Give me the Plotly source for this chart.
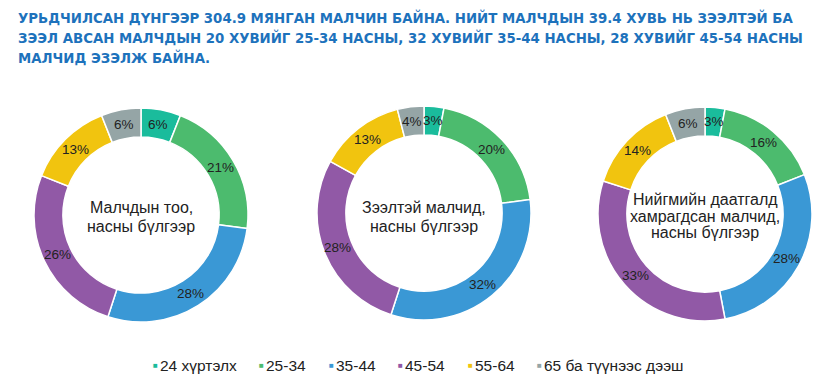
import math
import plotly.graph_objects as go

categories = ["24 хүртэлх", "25-34", "35-44", "45-54", "55-64", "65 ба түүнээс дээш"]
herders_total = [6, 21, 28, 26, 13, 6]
herders_loan = [3, 20, 32, 28, 13, 4]
herders_insured = [3, 16, 28, 33, 14, 6]
center_labels = [
    ["Малчдын тоо,", "насны бүлгээр"],
    ["Зээлтэй малчид,", "насны бүлгээр"],
    ["Нийгмийн даатгалд", "хамрагдсан малчид,", "насны бүлгээр"],
]
title_lines = [
    "УРЬДЧИЛСАН ДҮНГЭЭР 304.9 МЯНГАН МАЛЧИН БАЙНА. НИЙТ МАЛЧДЫН 39.4 ХУВЬ НЬ ЗЭЭЛТЭЙ БА",
    "ЗЭЭЛ АВСАН МАЛЧДЫН 20 ХУВИЙГ 25-34 НАСНЫ, 32 ХУВИЙГ 35-44 НАСНЫ, 28 ХУВИЙГ 45-54 НАСНЫ",
    "МАЛЧИД ЭЗЭЛЖ БАЙНА.",
]
colors = ["#1ABC9C", "#4CBB6E", "#3A98D5", "#9159A6", "#F1C40F", "#95A5A6"]

W, H = 825, 387
centers = [(141, 215), (424, 213), (705, 214)]
label_centers_y = [216.5, 217, 216]
label_spacing = [19, 19, 16.5]
R = 107
HOLE = 0.73
FONT = "Liberation Sans, Arial"

fig = go.Figure()
series = [herders_total, herders_loan, herders_insured]
for i, (vals, (cx, cy)) in enumerate(zip(series, centers)):
    fig.add_trace(go.Pie(
        labels=categories,
        values=vals,
        hole=HOLE,
        sort=False,
        direction="clockwise",
        rotation=0,
        marker=dict(colors=colors, line=dict(color="white", width=1.5)),
        textinfo="none",
        hoverinfo="label+value",
        showlegend=False,
        domain=dict(x=[(cx - R) / W, (cx + R) / W], y=[(H - cy - R) / H, (H - cy + R) / H]),
    ))
    lines = center_labels[i]
    n = len(lines)
    for k, ln in enumerate(lines):
        ly = label_centers_y[i] + (k - (n - 1) / 2) * label_spacing[i]
        fig.add_annotation(
            x=cx / W, y=(H - ly) / H, xref="paper", yref="paper",
            xanchor="center", yanchor="middle",
            text=ln, showarrow=False,
            font=dict(family=FONT, size=16, color="#222222"),
        )
    # percentage labels at the middle of each ring segment
    total = sum(vals)
    cum = 0
    rm = R * (1 + HOLE) / 2
    for v in vals:
        mid = (cum + v / 2) / total * 2 * math.pi
        cum += v
        px = cx + rm * math.sin(mid)
        py = cy - rm * math.cos(mid)
        fig.add_annotation(
            x=px / W, y=(H - py) / H, xref="paper", yref="paper",
            xanchor="center", yanchor="middle", text=f"{v}%", showarrow=False,
            font=dict(family=FONT, size=13.5, color="#222222"),
        )

for j, line in enumerate(title_lines):
    fig.add_annotation(
        x=16 / W, y=(H - 17 - 20 * j) / H, xref="paper", yref="paper",
        xanchor="left", yanchor="middle", text="<b>" + line + "</b>", showarrow=False,
        font=dict(family="DejaVu Sans Condensed", size=14.8, color="#1D72BC"),
    )

# legend drawn as a row of coloured squares and labels
legend_x = [152, 258, 328, 397, 467, 536]
for lx, cat, col in zip(legend_x, categories, colors):
    fig.add_annotation(
        x=lx / W, y=(H - 365) / H, xref="paper", yref="paper",
        xanchor="left", yanchor="middle", showarrow=False,
        text="■", font=dict(family=FONT, size=8, color=col),
        xshift=-1,
    )
    fig.add_annotation(
        x=(lx + 6) / W, y=(H - 365) / H, xref="paper", yref="paper",
        xanchor="left", yanchor="middle", showarrow=False,
        text=cat, font=dict(family=FONT, size=15.5, color="#222222"),
    )

fig.update_layout(
    width=W, height=H,
    margin=dict(l=0, r=0, t=0, b=0),
    paper_bgcolor="white", plot_bgcolor="white",
    showlegend=False,
)
fig.write_html("out.html", config={"displayModeBar": False},
               post_script="document.body.style.margin='0';")
